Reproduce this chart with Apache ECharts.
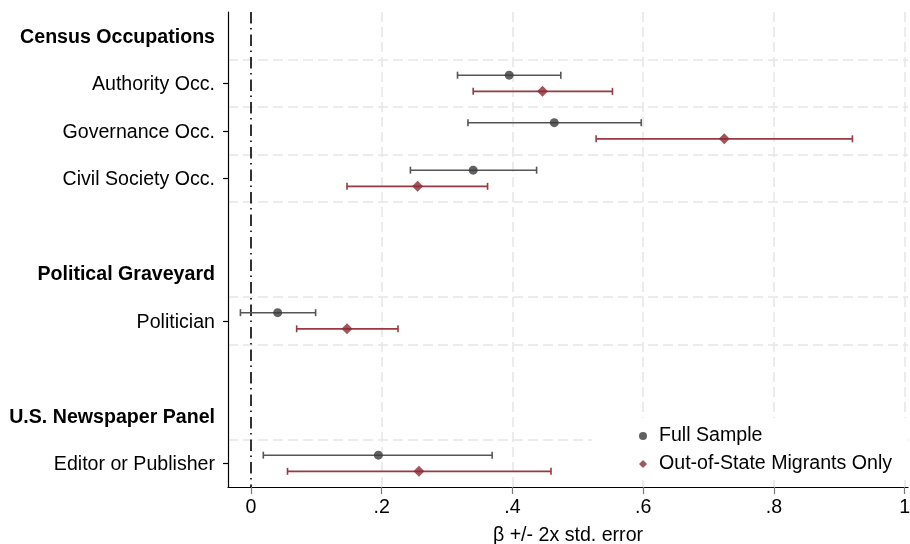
<!DOCTYPE html>
<html>
<head>
<meta charset="utf-8">
<script src="https://cdn.jsdelivr.net/npm/echarts@6/dist/echarts.min.js"></script>
<style>
  html, body { margin: 0; padding: 0; background: #fff; }
  #chart { width: 910px; height: 544px; }
</style>
</head>
<body>
<div id="chart"></div>
<script>
// rows from top to bottom; '' rows are spacers
const rowLabels = ['Census Occupations', 'Authority Occ.', 'Governance Occ.', 'Civil Society Occ.', '',
  'Political Graveyard', 'Politician', '', 'U.S. Newspaper Panel', 'Editor or Publisher'];
const headerRows = [0, 5, 8];
const coefRows = [1, 2, 3, 6, 9];

// Full sample
const fullCoef = [0.395, 0.464, 0.340, 0.041, 0.195];
const fullLow = [0.316, 0.332, 0.244, -0.016, 0.019];
const fullHigh = [0.474, 0.597, 0.437, 0.099, 0.369];

// Out-of-state migrants only
const oosCoef = [0.446, 0.724, 0.255, 0.147, 0.257];
const oosLow = [0.340, 0.528, 0.147, 0.070, 0.056];
const oosHigh = [0.553, 0.920, 0.362, 0.225, 0.459];

// axis ticks and grid lines
const xTicks = [0, 0.2, 0.4, 0.6, 0.8, 1];
const xGrid = [0.2, 0.4, 0.6, 0.8, 1];
const rowBreaks = [0.5, 1.5, 2.5, 3.5, 5.5, 6.5, 8.5];

const FONT = '"Liberation Sans", Arial, Helvetica, sans-serif';
const FS = 19.6;
const GREY = '#3a3a3a', GREY_LINE = '#555555';
const RED = '#8b2a31', RED_LINE = '#983a41';
const OFFSET = 0.17;

function fmtTick(v) {
  if (v === 0) return '0';
  if (v === 1) return '1';
  return String(+v.toFixed(2)).replace(/^0\./, '.');
}

function ciData(low, high, shift) {
  return coefRows.map((r, i) => [low[i], high[i], r + shift]);
}
function ptData(coef, shift) {
  return coefRows.map((r, i) => [coef[i], r + shift]);
}

function errorBar(color) {
  return function (params, api) {
    const y = api.value(2);
    const a = api.coord([api.value(0), y]);
    const b = api.coord([api.value(1), y]);
    const h = 3.5;
    const style = { stroke: color, lineWidth: 1.6 };
    return {
      type: 'group',
      children: [
        { type: 'line', shape: { x1: a[0], y1: a[1], x2: b[0], y2: b[1] }, style: style },
        { type: 'line', shape: { x1: a[0], y1: a[1] - h, x2: a[0], y2: a[1] + h }, style: style },
        { type: 'line', shape: { x1: b[0], y1: b[1] - h, x2: b[0], y2: b[1] + h }, style: style }
      ]
    };
  };
}

const chart = echarts.init(document.getElementById('chart'), null, { renderer: 'canvas' });

chart.setOption({
  animation: false,
  backgroundColor: '#fff',
  textStyle: { fontFamily: FONT },
  grid: { left: 228, right: 2, top: 12, bottom: 57, containLabel: false, outerBoundsMode: 'none' },
  legend: {
    orient: 'vertical',
    left: 592,
    top: 418,
    padding: [8, 15, 6, 47],
    backgroundColor: '#fff',
    itemWidth: 8,
    itemHeight: 8,
    itemGap: 8,
    z: 8,
    textStyle: { fontFamily: FONT, fontSize: FS, color: '#000', lineHeight: 19, padding: [0, 0, 0, 7] },
    data: [
      { name: 'Full Sample', icon: 'circle', itemStyle: { color: GREY } },
      { name: 'Out-of-State Migrants Only', icon: 'diamond', itemStyle: { color: RED } }
    ]
  },
  xAxis: {
    type: 'value',
    min: -0.035,
    max: 1.005,
    z: 10,
    name: 'β +/- 2x std. error',
    nameLocation: 'middle',
    nameGap: 39,
    nameTextStyle: { fontFamily: FONT, fontSize: FS, color: '#000' },
    axisLine: { show: true, onZero: false, lineStyle: { color: '#000', width: 1.2 } },
    axisTick: { show: true, customValues: xTicks, length: 7, lineStyle: { color: '#777', width: 1.2 } },
    axisLabel: { customValues: xTicks, formatter: fmtTick, fontFamily: FONT, fontSize: FS, color: '#000', margin: 11 },
    splitLine: { show: false }
  },
  yAxis: [
    {
      type: 'category',
      data: rowLabels,
      inverse: true,
      boundaryGap: true,
      z: 10,
      axisLine: { show: true, onZero: false, lineStyle: { color: '#000', width: 1.2 } },
      axisTick: {
        show: true,
        alignWithLabel: true,
        length: 5,
        interval: (i) => coefRows.indexOf(i) >= 0,
        lineStyle: { color: '#000', width: 1.2 }
      },
      axisLabel: {
        interval: 0,
        margin: 13,
        padding: [3, 0, 0, 0],
        fontFamily: FONT,
        fontSize: FS,
        color: '#000',
        formatter: (v, i) => headerRows.indexOf(i) >= 0 ? '{h|' + v + '}' : v,
        rich: { h: { fontFamily: FONT, fontSize: FS, fontWeight: 'bold', color: '#000' } }
      },
      splitLine: { show: false }
    },
    {
      type: 'value',
      min: -0.5,
      max: 9.5,
      inverse: true,
      show: false,
      axisLine: { onZero: false },
      splitLine: { show: false }
    }
  ],
  series: [
    {
      name: 'grid',
      type: 'line',
      yAxisIndex: 1,
      data: [],
      silent: true,
      markLine: {
        silent: true,
        z: 1,
        symbol: 'none',
        label: { show: false },
        lineStyle: { color: '#e6e6e6', type: [10, 5], width: 1.5 },
        data: rowBreaks.map(v => ({ yAxis: v })).concat(xGrid.map(v => ({ xAxis: v })))
      },
      z: 1
    },
    {
      name: 'zero',
      type: 'line',
      yAxisIndex: 1,
      data: [],
      silent: true,
      markLine: {
        silent: true,
        z: 2,
        symbol: 'none',
        label: { show: false },
        lineStyle: { color: '#000', type: [11.5, 4.5, 1.5, 5], width: 1.6 },
        data: [{ xAxis: 0 }]
      },
      z: 2
    },
    {
      name: 'fullCI',
      type: 'custom',
      yAxisIndex: 1,
      renderItem: errorBar(GREY_LINE),
      data: ciData(fullLow, fullHigh, -OFFSET),
      z: 3
    },
    {
      name: 'oosCI',
      type: 'custom',
      yAxisIndex: 1,
      renderItem: errorBar(RED_LINE),
      data: ciData(oosLow, oosHigh, OFFSET),
      z: 3
    },
    {
      name: 'Full Sample',
      type: 'scatter',
      yAxisIndex: 1,
      symbol: 'circle',
      symbolSize: 9,
      itemStyle: { color: GREY },
      data: ptData(fullCoef, -OFFSET),
      z: 4
    },
    {
      name: 'Out-of-State Migrants Only',
      type: 'scatter',
      yAxisIndex: 1,
      symbol: 'diamond',
      symbolSize: [11, 11],
      itemStyle: { color: RED },
      data: ptData(oosCoef, OFFSET),
      z: 4
    }
  ]
});
</script>
</body>
</html>
